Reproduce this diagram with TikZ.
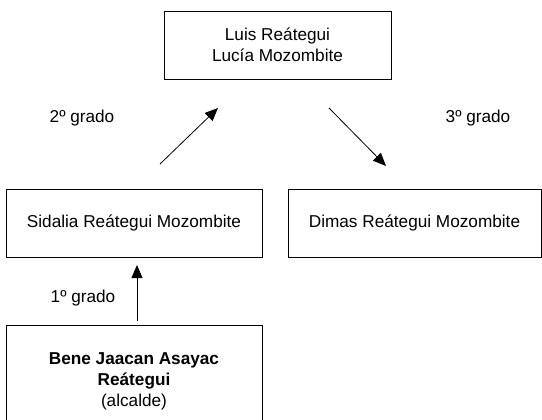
\documentclass[tikz,border=0pt]{standalone}
\usepackage{fontspec}
\setmainfont{Liberation Sans}
\usetikzlibrary{arrows.meta}
\begin{document}
\begin{tikzpicture}[x=1pt,y=-1pt,
  box/.style={draw=black,line width=0.8pt,inner sep=0pt,align=center,
    font=\fontsize{17.2}{21}\selectfont},
  lbl/.style={inner sep=0pt,font=\fontsize{17.2}{21}\selectfont},
  arr/.style={line width=0.8pt,-{Triangle[length=13pt,width=11pt]}}]
\useasboundingbox (0,0) rectangle (542,420);
\clip (0,0) rectangle (542,420);
\fill[white] (0,0) rectangle (542,420);
\node[box,minimum width=227pt,minimum height=68pt] (top) at (277.5,45) {Luis Reátegui\\Lucía Mozombite};
\node[box,minimum width=256pt,minimum height=68pt] (sid) at (134,223) {Sidalia Reátegui Mozombite};
\node[box,minimum width=253pt,minimum height=68pt] (dim) at (414.5,223) {Dimas Reátegui Mozombite};
\node[box,minimum width=256pt,minimum height=112pt] (bene) at (134,381) {\textbf{Bene Jaacan Asayac}\\\textbf{Reátegui}\\(alcalde)};
\node[lbl] (l2) at (82,118) {2º grado};
\node[lbl] (l3) at (478,118) {3º grado};
\node[lbl] (l1) at (83,298) {1º grado};
\coordinate (a1s) at (160,164);
\coordinate (a1e) at (218,108);
\coordinate (a2s) at (329,108);
\coordinate (a2e) at (386,166);
\coordinate (a3s) at (137,321);
\coordinate (a3e) at (137,265);
\draw[arr] (a1s) -- (a1e);
\draw[arr] (a2s) -- (a2e);
\draw[arr] (a3s) -- (a3e);
\end{tikzpicture}
\end{document}
